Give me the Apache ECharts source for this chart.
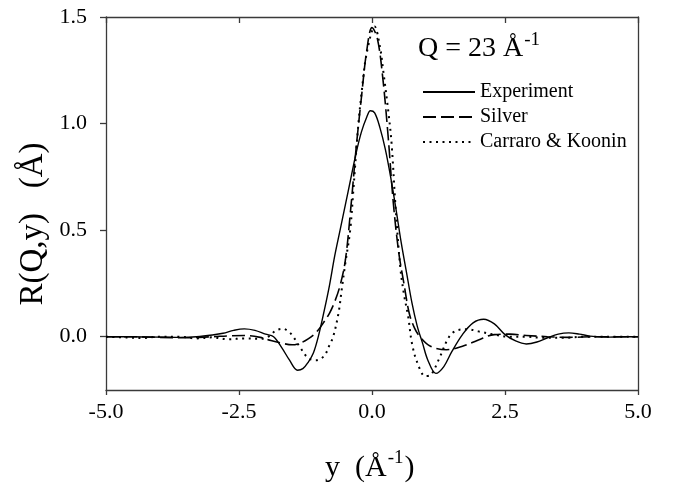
<!DOCTYPE html>
<html>
<head>
<meta charset="utf-8">
<script src="https://cdn.jsdelivr.net/npm/echarts@6/dist/echarts.min.js"></script>
<style>
html,body{margin:0;padding:0;background:#fff;}
#c{width:683px;height:493px;}
</style>
</head>
<body>
<div id="c"></div>
<script>
// ---- data ----
const xTicks = [-5, -2.5, 0, 2.5, 5];
const yTicks = [0, 0.5, 1.0, 1.5];
const seriesNames = ['Experiment', 'Silver', 'Carraro & Koonin'];

const xExp = [-5,-4.5,-4,-3.6,-3.3,-3.0,-2.8,-2.6,-2.4,-2.2,-2.0,-1.85,-1.7,-1.55,-1.4,-1.3,-1.2,-1.1,-1.0,-0.9,-0.8,-0.7,-0.6,-0.5,-0.4,-0.3,-0.2,-0.1,-0.03,0.05,0.15,0.25,0.35,0.45,0.55,0.65,0.75,0.85,0.95,1.05,1.2,1.35,1.5,1.7,1.9,2.1,2.3,2.5,2.7,2.9,3.1,3.3,3.5,3.7,3.9,4.1,4.4,4.7,5.0];
const yExp = [0,0,-0.002,-0.003,0.0,0.008,0.016,0.03,0.037,0.03,0.012,0.0,-0.05,-0.11,-0.157,-0.15,-0.12,-0.075,0.01,0.12,0.24,0.38,0.50,0.62,0.74,0.86,0.96,1.03,1.06,1.05,0.98,0.88,0.75,0.60,0.44,0.30,0.16,0.05,-0.03,-0.11,-0.172,-0.14,-0.07,0.01,0.065,0.082,0.06,0.01,-0.02,-0.034,-0.025,-0.005,0.012,0.018,0.012,0.003,-0.002,0,0];

const xSil = [-5,-4.5,-4,-3.5,-3.0,-2.7,-2.4,-2.1,-1.9,-1.7,-1.5,-1.35,-1.2,-1.05,-0.9,-0.8,-0.7,-0.6,-0.5,-0.4,-0.3,-0.2,-0.1,0,0.1,0.2,0.3,0.4,0.5,0.6,0.7,0.8,0.9,1.1,1.4,1.7,2.0,2.3,2.6,2.9,3.3,3.7,4.2,4.6,5];
const ySil = [0,0,-0.003,-0.005,0.0,0.004,0.006,-0.003,-0.018,-0.03,-0.038,-0.03,-0.01,0.02,0.07,0.11,0.165,0.24,0.36,0.6,0.88,1.12,1.34,1.45,1.40,1.22,0.95,0.63,0.40,0.25,0.11,0.04,0.0,-0.045,-0.061,-0.045,-0.015,0.01,0.012,0.006,0.0,-0.003,0,0,0];

const xCK = [-5,-4.6,-4.3,-4.0,-3.6,-3.3,-3.0,-2.7,-2.4,-2.1,-1.95,-1.8,-1.67,-1.55,-1.48,-1.35,-1.2,-1.05,-0.9,-0.8,-0.73,-0.63,-0.57,-0.51,-0.41,-0.35,-0.26,-0.19,-0.1,0.05,0.15,0.21,0.31,0.37,0.44,0.53,0.6,0.68,0.75,0.85,1.0,1.1,1.25,1.45,1.6,1.8,2.0,2.3,2.6,2.9,3.2,3.6,4.0,4.5,5];
const yCK = [0,-0.004,-0.006,0.0,0.0,-0.008,-0.003,-0.012,-0.008,-0.01,0.0,0.03,0.037,0.02,0.0,-0.05,-0.1,-0.11,-0.09,-0.04,0.0,0.11,0.22,0.33,0.50,0.69,0.986,1.158,1.33,1.455,1.36,1.25,1.05,0.9,0.62,0.33,0.2,0.095,-0.03,-0.12,-0.185,-0.18,-0.11,0.0,0.03,0.035,0.025,0.01,0.0,0.0,-0.005,-0.005,0.0,0,0];

const pairs = (xs, ys) => xs.map((x, i) => [x, ys[i]]);

const FONT = 'Liberation Serif, Times New Roman, serif';
const AXIS_COLOR = '#3a3a3a';

function measure(text, size) {
  const ctx = document.createElement('canvas').getContext('2d');
  ctx.font = size + 'px ' + FONT;
  return ctx.measureText(text).width;
}

const chart = echarts.init(document.getElementById('c'), null, {renderer: 'canvas'});

const qMain = 'Q = 23 Å';
const qSize = 28, supSize = 19;
const qX = 418;
const qW = measure(qMain, qSize);

const xtMain = 'y  (Å';
const xtSize = 30;
const xtW = measure(xtMain, xtSize);
const supW = measure('-1', supSize);
const xtX = 325;

const option = {
  animation: false,
  backgroundColor: '#ffffff',
  color: ['#000', '#000', '#000'],
  grid: {left: 106, right: 45, top: 17, bottom: 103, containLabel: false},
  xAxis: [{
    type: 'value', min: -5, max: 5, interval: 2.5,
    axisLine: {show: true, onZero: false, lineStyle: {color: AXIS_COLOR, width: 1.3}},
    axisTick: {show: true, inside: false, length: 5, lineStyle: {color: AXIS_COLOR, width: 1.3}, customValues: xTicks},
    axisLabel: {show: true, margin: 11, color: '#000', fontFamily: FONT, fontSize: 22,
      customValues: xTicks, formatter: v => v.toFixed(1)},
    splitLine: {show: false}
  }, {
    type: 'value', position: 'top', min: -5, max: 5, interval: 2.5,
    axisLine: {show: true, onZero: false, lineStyle: {color: AXIS_COLOR, width: 1.3}},
    axisTick: {show: true, inside: true, length: 6, lineStyle: {color: AXIS_COLOR, width: 1.3}, customValues: xTicks},
    axisLabel: {show: false},
    splitLine: {show: false}
  }],
  yAxis: [{
    type: 'value', min: -0.25, max: 1.5,
    axisLine: {show: true, onZero: false, lineStyle: {color: AXIS_COLOR, width: 1.3}},
    axisTick: {show: true, inside: false, length: 6, lineStyle: {color: AXIS_COLOR, width: 1.3}, customValues: yTicks},
    axisLabel: {show: true, margin: 19, color: '#000', fontFamily: FONT, fontSize: 22,
      customValues: yTicks, formatter: v => v.toFixed(1)},
    splitLine: {show: false}
  }, {
    type: 'value', position: 'right', min: -0.25, max: 1.5,
    axisLine: {show: true, onZero: false, lineStyle: {color: AXIS_COLOR, width: 1.3}},
    axisTick: {show: false},
    axisLabel: {show: false},
    splitLine: {show: false}
  }],
  legend: {
    orient: 'vertical',
    left: 417, top: 77,
    itemWidth: 52, itemHeight: 14, itemGap: 5,
    itemStyle: {opacity: 0},
    textStyle: {color: '#000', fontFamily: FONT, fontSize: 20, lineHeight: 20},
    data: seriesNames
  },
  series: [{
    name: seriesNames[0], type: 'line', xAxisIndex: 0, yAxisIndex: 0,
    data: pairs(xExp, yExp), smooth: 0.35, symbol: 'none',
    itemStyle: {color: '#000'},
    lineStyle: {color: '#000', width: 1.4, type: 'solid'}
  }, {
    name: seriesNames[1], type: 'line', xAxisIndex: 0, yAxisIndex: 0,
    data: pairs(xSil, ySil), smooth: 0.35, symbol: 'none',
    itemStyle: {color: '#000'},
    lineStyle: {color: '#000', width: 1.6, type: [13, 5]}
  }, {
    name: seriesNames[2], type: 'line', xAxisIndex: 0, yAxisIndex: 0,
    data: pairs(xCK, yCK), smooth: 0.35, symbol: 'none',
    itemStyle: {color: '#000'},
    lineStyle: {color: '#000', width: 2, type: [2, 4.5]}
  }],
  graphic: [
    {type: 'text', left: qX, top: 35, style: {text: qMain, font: qSize + 'px ' + FONT, fill: '#000'}},
    {type: 'text', left: qX + qW + 1, top: 31, style: {text: '-1', font: supSize + 'px ' + FONT, fill: '#000'}},
    {type: 'text', left: xtX, top: 453, style: {text: xtMain, font: xtSize + 'px ' + FONT, fill: '#000'}},
    {type: 'text', left: xtX + xtW + 1, top: 449, style: {text: '-1', font: supSize + 'px ' + FONT, fill: '#000'}},
    {type: 'text', left: xtX + xtW + supW + 2, top: 453, style: {text: ')', font: xtSize + 'px ' + FONT, fill: '#000'}},
    {type: 'text', x: 33, y: 224, rotation: Math.PI / 2,
      style: {text: 'R(Q,y)   (Å)', font: '33px ' + FONT, fill: '#000', align: 'center', verticalAlign: 'middle'}}
  ]
};
chart.setOption(option);
</script>
</body>
</html>
